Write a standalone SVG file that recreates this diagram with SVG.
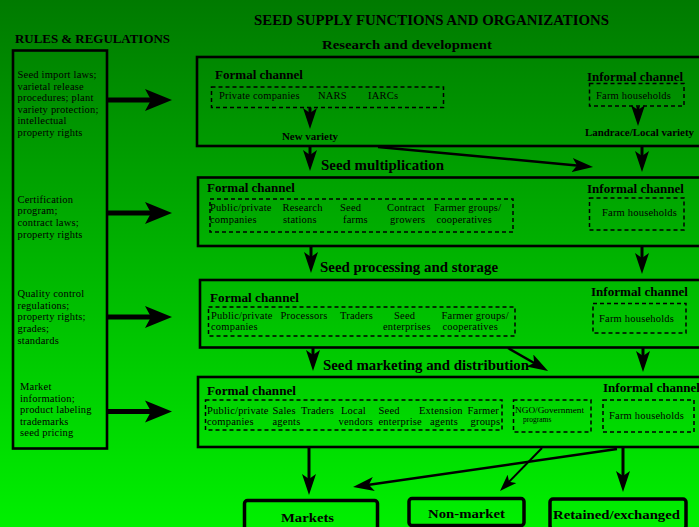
<svg xmlns="http://www.w3.org/2000/svg" width="699" height="527" viewBox="0 0 699 527">
<defs>
<linearGradient id="bg" x1="0" y1="0" x2="0" y2="1">
<stop offset="0" stop-color="#007a00"/>
<stop offset="1" stop-color="#00f000"/>
</linearGradient>
<marker id="big" markerUnits="userSpaceOnUse" markerWidth="28" markerHeight="24" refX="12" refY="12" orient="auto"><path d="M0,1 L27,12 L0,23 L6,12 Z" fill="#000"/></marker>
<marker id="med" markerUnits="userSpaceOnUse" markerWidth="22" markerHeight="14" refX="10" refY="7" orient="auto"><path d="M0,0 L21,7 L0,14 L5,7 Z" fill="#000"/></marker>
<marker id="thin" markerUnits="userSpaceOnUse" markerWidth="18" markerHeight="12" refX="8" refY="6" orient="auto"><path d="M0,0 L17,6 L0,12 L4,6 Z" fill="#000"/></marker>
</defs>
<style>
.box{fill:none;stroke:#000;stroke-width:2.6}
.dash{fill:none;stroke:#000;stroke-width:1.5;stroke-dasharray:4 3}
.out{fill:none;stroke:#000;stroke-width:3.5}
.h{font-family:"Liberation Serif","Times New Roman",serif;font-weight:bold;fill:#000}
.t{font-size:14.5px}
.c{font-size:12.5px}
.v{font-size:10px}
.s{font-family:"Liberation Serif","Times New Roman",serif;font-size:10.5px;letter-spacing:0.2px;fill:#000}
.n{font-family:"Liberation Serif","Times New Roman",serif;font-size:7.5px;fill:#000}
.big{stroke:#000;stroke-width:5;fill:none;marker-end:url(#big)}
.ar{stroke:#000;stroke-width:3;fill:none;marker-end:url(#med)}
.dg{stroke:#000;stroke-width:2.5;fill:none;marker-end:url(#med)}
.dt{stroke:#000;stroke-width:2;fill:none;marker-end:url(#thin)}
</style>
<rect x="0" y="0" width="699" height="527" fill="url(#bg)"/>

<g id="titles">
<text class="h t" x="254" y="25" textLength="355" lengthAdjust="spacingAndGlyphs">SEED SUPPLY FUNCTIONS AND ORGANIZATIONS</text>
<text class="h" x="15" y="43" font-size="13.5" textLength="155" lengthAdjust="spacingAndGlyphs">RULES &amp; REGULATIONS</text>
<text class="h" x="322" y="48.5" font-size="13.5" textLength="170" lengthAdjust="spacingAndGlyphs">Research and development</text>
<text class="h t" x="321" y="169.5" textLength="123" lengthAdjust="spacingAndGlyphs">Seed multiplication</text>
<text class="h t" x="320" y="272" textLength="178" lengthAdjust="spacingAndGlyphs">Seed processing and storage</text>
<text class="h t" x="323" y="369.5" textLength="206" lengthAdjust="spacingAndGlyphs">Seed marketing and distribution</text>
</g>

<g id="rules">
<rect class="box" x="13" y="50.5" width="94" height="398"/>
<text class="s" x="17.5" y="78">Seed import laws;</text>
<text class="s" x="17.5" y="89.5">varietal release</text>
<text class="s" x="17.5" y="101">procedures; plant</text>
<text class="s" x="17.5" y="112.5">variety protection;</text>
<text class="s" x="17.5" y="124">intellectual</text>
<text class="s" x="17.5" y="135.5">property rights</text>
<text class="s" x="17.5" y="202.5">Certification</text>
<text class="s" x="17.5" y="214">program;</text>
<text class="s" x="17.5" y="225.5">contract laws;</text>
<text class="s" x="17.5" y="237.5">property rights</text>
<text class="s" x="17.5" y="296.5">Quality control</text>
<text class="s" x="17.5" y="308.5">regulations;</text>
<text class="s" x="17.5" y="319.5">property rights;</text>
<text class="s" x="17.5" y="332">grades;</text>
<text class="s" x="17.5" y="344">standards</text>
<text class="s" x="20" y="390">Market</text>
<text class="s" x="20" y="401.5">information;</text>
<text class="s" x="20" y="413">product labeling</text>
<text class="s" x="20" y="424.5">trademarks</text>
<text class="s" x="20" y="436">seed pricing</text>
</g>

<g id="research">
<rect class="box" x="197" y="57" width="520" height="89"/>
<text class="h c" x="215" y="78.5" textLength="88" lengthAdjust="spacingAndGlyphs">Formal channel</text>
<rect class="dash" x="211.5" y="87" width="232" height="20.5"/>
<text class="s" x="219" y="98.5">Private companies</text>
<text class="s" x="318" y="98.5">NARS</text>
<text class="s" x="368" y="98.5">IARCs</text>
<text class="h v" x="282" y="139.5" textLength="56" lengthAdjust="spacingAndGlyphs">New variety</text>
<text class="h c" x="587" y="81" textLength="96" lengthAdjust="spacingAndGlyphs">Informal channel</text>
<rect class="dash" x="589.5" y="83.5" width="94.5" height="22.5"/>
<text class="s" x="596" y="99">Farm households</text>
<text class="h v" x="585" y="136" textLength="109" lengthAdjust="spacingAndGlyphs">Landrace/Local variety</text>
</g>

<g id="multiplication">
<rect class="box" x="198" y="177.5" width="520" height="68.5"/>
<text class="h c" x="207" y="191.5" textLength="88" lengthAdjust="spacingAndGlyphs">Formal channel</text>
<rect class="dash" x="210" y="199" width="303" height="33"/>
<text class="s" x="210" y="211">Public/private</text>
<text class="s" x="210" y="222.5">companies</text>
<text class="s" x="282.5" y="211">Research</text>
<text class="s" x="283" y="222.5">stations</text>
<text class="s" x="340" y="211">Seed</text>
<text class="s" x="343" y="222.5">farms</text>
<text class="s" x="387" y="211">Contract</text>
<text class="s" x="390" y="222.5">growers</text>
<text class="s" x="434" y="211">Farmer groups/</text>
<text class="s" x="436.5" y="222.5">cooperatives</text>
<text class="h c" x="587" y="192.5" textLength="97" lengthAdjust="spacingAndGlyphs">Informal channel</text>
<rect class="dash" x="589.5" y="198" width="94.5" height="32"/>
<text class="s" x="602" y="215.5">Farm households</text>
</g>

<g id="processing">
<rect class="box" x="200" y="280" width="520" height="67.5"/>
<text class="h c" x="210" y="301.5" textLength="89" lengthAdjust="spacingAndGlyphs">Formal channel</text>
<rect class="dash" x="208.5" y="307" width="306.5" height="29"/>
<text class="s" x="211" y="318.5">Public/private</text>
<text class="s" x="211" y="329.5">companies</text>
<text class="s" x="280.5" y="318.5">Processors</text>
<text class="s" x="340" y="318.5">Traders</text>
<text class="s" x="394" y="318.5">Seed</text>
<text class="s" x="383" y="329.5">enterprises</text>
<text class="s" x="441.5" y="318.5">Farmer groups/</text>
<text class="s" x="442.5" y="329.5">cooperatives</text>
<text class="h c" x="591" y="295.5" textLength="97" lengthAdjust="spacingAndGlyphs">Informal channel</text>
<rect class="dash" x="593" y="303.5" width="93" height="29.5"/>
<text class="s" x="599" y="321.5">Farm households</text>
</g>

<g id="marketing">
<rect class="box" x="198" y="377" width="520" height="70"/>
<text class="h c" x="207" y="395" textLength="89" lengthAdjust="spacingAndGlyphs">Formal channel</text>
<rect class="dash" x="205.5" y="400" width="296.5" height="30"/>
<text class="s" x="207" y="413.5">Public/private</text>
<text class="s" x="207" y="425">companies</text>
<text class="s" x="272.5" y="413.5">Sales</text>
<text class="s" x="272.5" y="425">agents</text>
<text class="s" x="301" y="413.5">Traders</text>
<text class="s" x="341" y="413.5">Local</text>
<text class="s" x="338.5" y="425">vendors</text>
<text class="s" x="378.5" y="413.5">Seed</text>
<text class="s" x="378.5" y="425">enterprise</text>
<text class="s" x="419" y="413.5">Extension</text>
<text class="s" x="430" y="425">agents</text>
<text class="s" x="467.5" y="413.5">Farmer</text>
<text class="s" x="470.5" y="425">groups</text>
<rect class="dash" x="513.5" y="400" width="77.5" height="32"/>
<text class="n" x="515" y="412.5" textLength="69" lengthAdjust="spacingAndGlyphs">NGO/Government</text>
<text class="n" x="523" y="421.5">programs</text>
<text class="h c" x="603" y="391.5" textLength="97" lengthAdjust="spacingAndGlyphs">Informal channel</text>
<rect class="dash" x="603" y="400" width="91" height="32"/>
<text class="s" x="609" y="418.5">Farm households</text>
</g>

<g id="markets">
<rect class="out" x="244.5" y="500.5" width="133" height="40" rx="3"/>
<text class="h" x="281" y="522" font-size="13.5" textLength="53" lengthAdjust="spacingAndGlyphs">Markets</text>
</g>
<g id="non-market">
<rect class="out" x="409" y="498.5" width="115" height="27" rx="3"/>
<text class="h" x="428" y="517.5" font-size="13.5" textLength="77" lengthAdjust="spacingAndGlyphs">Non-market</text>
</g>
<g id="retained">
<rect class="out" x="550" y="499" width="136" height="30" rx="3"/>
<text class="h" x="553" y="518.5" font-size="13.5" textLength="127" lengthAdjust="spacingAndGlyphs">Retained/exchanged</text>
</g>

<g id="connectors">
<line class="big" x1="107" y1="100" x2="157" y2="100"/>
<line class="big" x1="107" y1="213" x2="157" y2="213"/>
<line class="big" x1="107" y1="317" x2="157" y2="317"/>
<line class="big" x1="107" y1="411.5" x2="157" y2="411.5"/>
<line class="ar" x1="310" y1="107.5" x2="310" y2="118"/>
<line class="ar" x1="638" y1="106.5" x2="638" y2="115"/>
<line class="ar" x1="310" y1="146" x2="310" y2="160"/>
<line class="ar" x1="642" y1="146" x2="642" y2="161"/>
<line class="ar" x1="311" y1="246" x2="311" y2="262"/>
<line class="ar" x1="642" y1="247" x2="642" y2="263"/>
<line class="ar" x1="313" y1="348" x2="313" y2="360"/>
<line class="ar" x1="643" y1="348" x2="643" y2="361"/>
<line class="ar" x1="309" y1="447" x2="309" y2="484" stroke-width="4"/>
<line class="ar" x1="623" y1="447" x2="623" y2="481"/>
<line class="dg" x1="378" y1="147" x2="582.1" y2="166"/>
<line class="dg" x1="508" y1="348" x2="538.5" y2="365.5"/>
<line class="dt" x1="542" y1="448" x2="506.3" y2="484.6"/>
<line class="dg" x1="617" y1="449" x2="363.9" y2="485.4"/>
</g>
</svg>
